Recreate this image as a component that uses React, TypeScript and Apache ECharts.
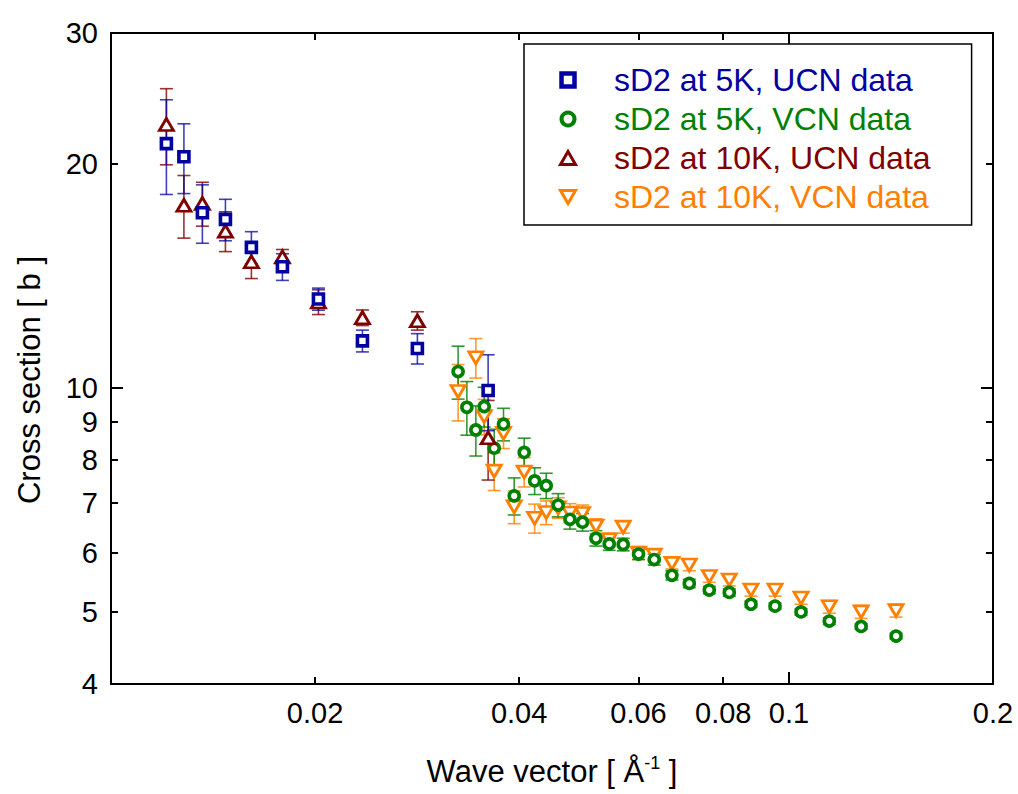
import React, { useEffect, useRef } from "react";
import * as echarts from "echarts";

// ---------- data ----------
const X_MIN = 0.01;
const X_MAX = 0.2;
const Y_MIN = 4;
const Y_MAX = 30;
const X_LABELS = [0.02, 0.04, 0.06, 0.08, 0.1, 0.2];
const X_SHORT_TICKS = [0.02, 0.04, 0.06, 0.08];
const X_LONG_TICKS = [0.1];
const Y_LABELS = [4, 5, 6, 7, 8, 9, 10, 20, 30];
const Y_SHORT_TICKS = [5, 6, 7, 8, 9, 20];
const Y_LONG_TICKS = [10];

const NAMES = [
  "sD2 at 5K, UCN data",
  "sD2 at 5K, VCN data",
  "sD2 at 10K, UCN data",
  "sD2 at 10K, VCN data",
];

// sD2 at 5K, UCN data
const UCN5_Q = [0.01207, 0.01281, 0.01364, 0.01475, 0.01611, 0.0179, 0.02023, 0.02349, 0.02831, 0.036];
const UCN5_S = [21.3, 20.45, 17.2, 16.85, 15.45, 14.55, 13.17, 11.57, 11.3, 9.92];
const UCN5_E = [3.1, 2.2, 1.55, 1.08, 0.77, 0.6, 0.45, 0.39, 0.53, 1.16];

// sD2 at 10K, UCN data
const UCN10_Q = [0.01207, 0.01281, 0.01364, 0.01475, 0.01611, 0.0179, 0.02023, 0.02349, 0.02831, 0.036];
const UCN10_S = [22.6, 17.6, 17.7, 16.25, 14.78, 15.0, 13.05, 12.43, 12.31, 8.57];
const UCN10_E = [2.65, 1.7, 1.2, 1.0, 0.75, 0.35, 0.5, 0.3, 0.35, 1.05];

// sD2 at 5K, VCN data
const VCN5_Q = [
  0.03251, 0.03349, 0.03453, 0.03552, 0.03675, 0.03793, 0.03933, 0.04069, 0.04216, 0.04385,
  0.04567, 0.04753, 0.04961, 0.05192, 0.05431, 0.05696, 0.06, 0.06329, 0.06721, 0.07129,
  0.0763, 0.08166, 0.08791, 0.09539, 0.1042, 0.1147, 0.1278, 0.1439,
];
const VCN5_S = [
  10.52, 9.42, 8.78, 9.44, 8.3, 8.94, 7.16, 8.19, 7.5, 7.39,
  6.96, 6.66, 6.6, 6.28, 6.17, 6.16, 5.98, 5.88, 5.6, 5.46,
  5.35, 5.31, 5.12, 5.09, 5.0, 4.86, 4.78, 4.64,
];
const VCN5_E = [
  0.86, 0.78, 0.68, 0.58, 0.5, 0.45, 0.41, 0.37, 0.31, 0.29,
  0.25, 0.2, 0.18, 0.15, 0.12, 0.12, 0.1, 0.1, 0.08, 0.07,
  0.06, 0.06, 0.05, 0.05, 0.05, 0.05, 0.04, 0.04,
];

// sD2 at 10K, VCN data
const VCN10_Q = [
  0.03251, 0.03453, 0.03552, 0.03675, 0.03793, 0.03933, 0.04069, 0.04216, 0.04385, 0.04567,
  0.04753, 0.04961, 0.05192, 0.05431, 0.05696, 0.06, 0.06329, 0.06721, 0.07129, 0.0763,
  0.08166, 0.08791, 0.09539, 0.1042, 0.1147, 0.1278, 0.1439,
];
const VCN10_S = [
  9.89, 10.98, 9.15, 7.73, 8.69, 6.92, 7.71, 6.68, 6.8, 6.9,
  6.79, 6.78, 6.52, 6.25, 6.5, 6.0, 5.96, 5.81, 5.78, 5.58,
  5.52, 5.35, 5.35, 5.22, 5.08, 5.0, 5.02,
];
const VCN10_E = [
  0.86, 0.67, 0.5, 0.45, 0.4, 0.35, 0.35, 0.3, 0.25, 0.22,
  0.2, 0.18, 0.15, 0.13, 0.12, 0.12, 0.1, 0.1, 0.1, 0.1,
  0.1, 0.1, 0.1, 0.1, 0.1, 0.1, 0.1,
];

// ---------- style ----------
const BLUE = "#0000a0";
const GREEN = "#008000";
const RED = "#800000";
const ORANGE = "#ff8000";
const FONT = "'Liberation Sans', Arial, Helvetica, sans-serif";
const SQUARE = "path://M0,0L10,0L10,10L0,10Z";
const DOWN_TRI = "path://M0,0L10,0L5,8.66Z";
const UP_TRI = "path://M5,0L10,8.66L0,8.66Z";

const lg = (v: number) => Math.log10(v);

function points(q: number[], s: number[]) {
  return q.map((x, i) => [lg(x), lg(s[i])]);
}
function bars(q: number[], s: number[], e: number[]) {
  return q.map((x, i) => [lg(x), lg(s[i] - e[i]), lg(s[i] + e[i])]);
}

function errSeries(id: string, data: number[][], color: string) {
  return {
    type: "custom",
    name: id,
    xAxisIndex: 0,
    yAxisIndex: 0,
    data,
    encode: { x: 0, y: [1, 2] },
    silent: true,
    z: 2,
    renderItem: (_p: any, api: any) => {
      const x = api.value(0);
      const lo = api.coord([x, api.value(1)]);
      const hi = api.coord([x, api.value(2)]);
      const w = 6.5;
      const st = { stroke: color, lineWidth: 1.6 };
      return {
        type: "group",
        children: [
          { type: "line", shape: { x1: lo[0], y1: lo[1], x2: hi[0], y2: hi[1] }, style: st },
          { type: "line", shape: { x1: lo[0] - w, y1: lo[1], x2: lo[0] + w, y2: lo[1] }, style: st },
          { type: "line", shape: { x1: hi[0] - w, y1: hi[1], x2: hi[0] + w, y2: hi[1] }, style: st },
        ],
      };
    },
  };
}

function scatter(name: string, data: number[][], symbol: string, size: any, color: string, bw: number) {
  return {
    type: "scatter",
    name,
    xAxisIndex: 0,
    yAxisIndex: 0,
    data,
    symbol,
    symbolSize: size,
    itemStyle: { color: "#ffffff", borderColor: color, borderWidth: bw, opacity: 1 },
    z: 3,
    silent: true,
  };
}

function xAxisDef(position: string, tickVals: number[], tickLen: number, labels: boolean, line: boolean) {
  return {
    type: "value",
    position,
    min: lg(X_MIN),
    max: lg(X_MAX),
    splitLine: { show: false },
    axisLine: { show: line, onZero: false, lineStyle: { color: "#000", width: 2 } },
    axisTick: {
      show: true,
      inside: true,
      length: tickLen,
      customValues: tickVals.map(lg),
      lineStyle: { color: "#000", width: 2 },
    },
    axisLabel: {
      show: labels,
      customValues: X_LABELS.map(lg),
      formatter: (v: number) => String(parseFloat(Math.pow(10, v).toPrecision(3))),
      fontSize: 29,
      color: "#000",
      fontFamily: FONT,
      margin: 14,
    },
  };
}

function yAxisDef(position: string, tickVals: number[], tickLen: number, labels: boolean, line: boolean) {
  return {
    type: "value",
    position,
    min: lg(Y_MIN),
    max: lg(Y_MAX),
    splitLine: { show: false },
    axisLine: { show: line, onZero: false, lineStyle: { color: "#000", width: 2 } },
    axisTick: {
      show: true,
      inside: true,
      length: tickLen,
      customValues: tickVals.map(lg),
      lineStyle: { color: "#000", width: 2 },
    },
    axisLabel: {
      show: labels,
      customValues: Y_LABELS.map(lg),
      formatter: (v: number) => String(Math.round(Math.pow(10, v))),
      fontSize: 29,
      color: "#000",
      fontFamily: FONT,
      margin: 13,
    },
  };
}

export default function App() {
  const ref = useRef<HTMLDivElement>(null);

  useEffect(() => {
    if (!ref.current) return;
    const chart = echarts.init(ref.current, null, { renderer: "svg" });
    const colors = [BLUE, GREEN, RED, ORANGE];
    const icons = [SQUARE, "circle", UP_TRI, DOWN_TRI];
    const iconBorder = [4.5, 4, 3, 3];

    const option: any = {
      animation: false,
      backgroundColor: "#ffffff",
      textStyle: { fontFamily: FONT },
      grid: {
        left: 111,
        right: 25,
        top: 33,
        bottom: 110,
        containLabel: false,
        outerBoundsMode: "none",
      },
      xAxis: [
        xAxisDef("bottom", X_SHORT_TICKS, 7, true, true),
        xAxisDef("top", X_SHORT_TICKS, 7, false, true),
        xAxisDef("bottom", X_LONG_TICKS, 12, false, false),
        xAxisDef("top", X_LONG_TICKS, 12, false, false),
      ],
      yAxis: [
        yAxisDef("left", Y_SHORT_TICKS, 7, true, true),
        yAxisDef("right", Y_SHORT_TICKS, 7, false, true),
        yAxisDef("left", Y_LONG_TICKS, 12, false, false),
        yAxisDef("right", Y_LONG_TICKS, 12, false, false),
      ],
      legend: {
        show: true,
        orient: "vertical",
        left: 524,
        top: 44,
        padding: [20, 41, 12, 35],
        itemWidth: 82,
        itemHeight: 13,
        itemGap: 7,
        borderColor: "#000",
        borderWidth: 1.5,
        backgroundColor: "#ffffff",
        selectedMode: false,
        textStyle: { fontSize: 32, lineHeight: 30, fontFamily: FONT },
        data: NAMES.map((n, i) => ({
          name: n,
          icon: icons[i],
          itemStyle: { color: "#ffffff", borderColor: colors[i], borderWidth: iconBorder[i] },
          textStyle: { color: colors[i], fontSize: 32, lineHeight: 30, fontFamily: FONT },
        })),
      },
      graphic: [
        {
          type: "text",
          x: 552,
          y: 771,
          style: {
            text: "{t|Wave vector [ Å}{s|-1}{t| ]}",
            align: "center",
            verticalAlign: "middle",
            fill: "#000",
            rich: {
              t: { fontSize: 31, fontFamily: FONT, fill: "#000", lineHeight: 34 },
              s: { fontSize: 18, fontFamily: FONT, fill: "#000", lineHeight: 18, verticalAlign: "top" },
            },
          },
        },
        {
          type: "text",
          x: 29,
          y: 380,
          rotation: Math.PI / 2,
          style: {
            text: "Cross section [ b ]",
            align: "center",
            verticalAlign: "middle",
            fontSize: 31,
            fontFamily: FONT,
            fill: "#000",
          },
        },
      ],
      series: [
        errSeries("err10v", bars(VCN10_Q, VCN10_S, VCN10_E), "rgba(255,128,0,0.8)"),
        errSeries("err5v", bars(VCN5_Q, VCN5_S, VCN5_E), "rgba(0,128,0,0.8)"),
        errSeries("err10u", bars(UCN10_Q, UCN10_S, UCN10_E), "rgba(128,0,0,0.8)"),
        errSeries("err5u", bars(UCN5_Q, UCN5_S, UCN5_E), "rgba(0,0,160,0.75)"),
        scatter(NAMES[3], points(VCN10_Q, VCN10_S), DOWN_TRI, [14, 12], ORANGE, 2.8),
        scatter(NAMES[1], points(VCN5_Q, VCN5_S), "circle", 10, GREEN, 3.6),
        scatter(NAMES[2], points(UCN10_Q, UCN10_S), UP_TRI, [14, 12], RED, 2.8),
        scatter(NAMES[0], points(UCN5_Q, UCN5_S), SQUARE, 10, BLUE, 3.6),
      ],
    };

    chart.setOption(option);
    return () => chart.dispose();
  }, []);

  return (
    <div
      ref={ref}
      style={{ position: "fixed", left: 0, top: 0, width: 1018, height: 794, background: "#fff" }}
    />
  );
}
